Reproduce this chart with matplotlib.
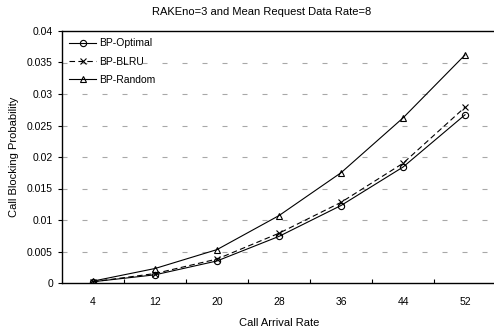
import matplotlib.pyplot as plt
import numpy as np

plt.rcParams['font.family'] = ['Liberation Sans', 'DejaVu Sans']

arrival_rates = [4, 12, 20, 28, 36, 44, 52]
bp_optimal = [0.0002, 0.0013, 0.0035, 0.0074, 0.0123, 0.0184, 0.0267]
bp_blru = [0.0002, 0.0015, 0.0038, 0.0079, 0.0128, 0.0190, 0.0279]
bp_random = [0.0003, 0.0023, 0.0053, 0.0107, 0.0175, 0.0262, 0.0362]

fig = plt.figure(figsize=(4.94, 3.34), dpi=100)
ax = fig.add_axes([62 / 494, 51 / 334, 434 / 494, 252 / 334])

x = np.arange(len(arrival_rates))

ax.plot(x, bp_optimal, color='black', linewidth=0.8, marker='o', markersize=4.5,
        markerfacecolor='none', markeredgewidth=0.8, label='BP-Optimal')
ax.plot(x, bp_blru, color='black', linewidth=0.8, linestyle=(0, (5, 3)), marker='x',
        markersize=4.5, markeredgewidth=0.8, label='BP-BLRU')
ax.plot(x, bp_random, color='black', linewidth=0.8, marker='^', markersize=4.5,
        markerfacecolor='none', markeredgewidth=0.8, label='BP-Random')

ax.set_xlim(-0.5, len(arrival_rates) - 0.5)
ax.set_ylim(0, 0.04)
ax.set_xticks(x)
ax.set_xticklabels([str(r) for r in arrival_rates])
ax.set_xticks(np.arange(0.5, len(arrival_rates) - 0.5, 1), minor=True)
ax.tick_params(axis='x', which='major', length=0, labelsize=7.5, pad=10)
ax.tick_params(axis='x', which='minor', direction='in', length=3, width=0.8)
ax.set_yticks(np.arange(0, 0.0401, 0.005))
ax.set_yticklabels(['0', '0.005', '0.01', '0.015', '0.02', '0.025', '0.03', '0.035', '0.04'])
ax.tick_params(axis='y', direction='out', length=3, width=0.8, labelsize=7.5)

for v in np.arange(0.005, 0.0399, 0.005):
    ax.axhline(v, color='#a8a8a8', linewidth=0.8, linestyle=(0, (4.5, 13.5)), zorder=0)

ax.spines['right'].set_visible(False)
for s in ('left', 'bottom', 'top'):
    ax.spines[s].set_linewidth(1.0)

ax.set_xlabel('Call Arrival Rate', fontsize=8, labelpad=8)
ax.set_ylabel('Call Blocking Probability', fontsize=8, labelpad=6)
fig.text(262 / 494, 1 - 12 / 334, 'RAKEno=3 and Mean Request Data Rate=8',
         ha='center', va='center', fontsize=8)

ax.legend(loc='upper left', frameon=False, fontsize=7.5, handlelength=2.6,
          handletextpad=0.3, labelspacing=0.8, borderaxespad=0.2,
          borderpad=0.5)

fig.savefig('out.png', dpi=100)
